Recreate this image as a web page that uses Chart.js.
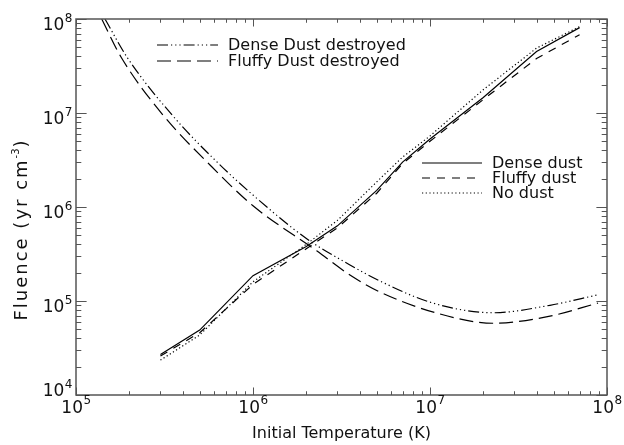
<!DOCTYPE html>
<html>
<head>
<meta charset="utf-8">
<script src="https://cdn.jsdelivr.net/npm/chart.js@4/dist/chart.umd.min.js"></script>
<style>
  html, body { margin: 0; padding: 0; background: #fff; }
  #wrap { width: 624px; height: 445px; }
</style>
</head>
<body>
<div id="wrap"><canvas id="myChart" width="624" height="445"></canvas></div>
<script>
// model grid for the dusty runs (K)
const temps = [3e5, 5e5, 1e6, 2e6, 3e6, 5e6, 7e6, 1e7, 2e7, 4e7, 7e7];
const denseDust  = [2.7e4, 4.9e4, 1.86e5, 3.8e5, 6.3e5, 1.5e6, 3.0e6, 5.3e6, 1.46e7, 4.5e7, 8.1e7];
const fluffyDust = [2.6e4, 4.6e4, 1.5e5, 3.6e5, 6.0e5, 1.4e6, 2.9e6, 5.0e6, 1.39e7, 3.8e7, 6.8e7];
const noDust     = [2.35e4, 4.35e4, 1.6e5, 4.0e5, 7.2e5, 1.85e6, 3.4e6, 5.7e6, 1.77e7, 4.9e7, 8.3e7];

// destruction curves
const denseDestroyedT = [1.458e5, 1.94e5, 3.49e5, 6.34e5, 1.0e6, 2.02e6, 3.53e6, 5.22e6, 1.04e7, 2.27e7, 4.76e7, 8.78e7];
const denseDestroyed  = [1e8, 3.94e7, 9.52e6, 2.94e6, 1.34e6, 4.57e5, 2.42e5, 1.63e5, 9.5e4, 7.5e4, 9.0e4, 1.158e5];
const fluffyDestroyedT = [1.397e5, 1.796e5, 3.10e5, 5.715e5, 1.0e6, 2.3e6, 3.53e6, 5.22e6, 1.139e7, 2.27e7, 4.76e7, 8.9e7];
const fluffyDestroyed  = [1e8, 3.94e7, 9.52e6, 2.80e6, 1.03e6, 3.40e5, 1.89e5, 1.246e5, 7.27e4, 5.8e4, 6.9e4, 9.52e4];

const xDecades = [5, 6, 7, 8];
const yDecades = [4, 5, 6, 7, 8];

const DASH = {
  solid: [],
  fluffy: [8, 7],
  dotted: [1.2, 2.5],
  dashDot: [11, 3, 1.2, 3, 1.2, 3, 1.2, 3],
  longDash: [14, 6]
};

const FONT = '"DejaVu Sans", sans-serif';

function pts(xs, ys) {
  return xs.map((x, i) => ({x: x, y: ys[i]}));
}

function series(label, xs, ys, dash, smooth) {
  return {
    label: label,
    data: pts(xs, ys),
    borderColor: '#000',
    borderWidth: 1.2,
    borderDash: dash,
    pointRadius: 0,
    fill: false,
    cubicInterpolationMode: smooth ? 'monotone' : 'default',
    tension: 0
  };
}

// axes frame, inward ticks, power-of-ten labels, titles and the two keys
const decorations = {
  id: 'decorations',
  afterDraw(chart) {
    const ctx = chart.ctx;
    const a = chart.chartArea;
    const xs = chart.scales.x, ys = chart.scales.y;
    const xMaj = 0.02 * (a.bottom - a.top), yMaj = 0.02 * (a.right - a.left);

    ctx.save();
    ctx.strokeStyle = '#555';
    ctx.lineWidth = 1.5;
    ctx.setLineDash([]);
    ctx.strokeRect(a.left, a.top, a.right - a.left, a.bottom - a.top);

    ctx.lineWidth = 1;
    ctx.beginPath();
    xDecades.forEach((d, i) => {
      for (let k = 1; k <= 9; k++) {
        if (k > 1 && i === xDecades.length - 1) break;
        const px = Math.round(xs.getPixelForValue(k * Math.pow(10, d))) + 0.5;
        const len = k === 1 ? xMaj : xMaj / 2;
        ctx.moveTo(px, a.bottom); ctx.lineTo(px, a.bottom - len);
        ctx.moveTo(px, a.top); ctx.lineTo(px, a.top + len);
      }
    });
    yDecades.forEach((d, i) => {
      for (let k = 1; k <= 9; k++) {
        if (k > 1 && i === yDecades.length - 1) break;
        const py = Math.round(ys.getPixelForValue(k * Math.pow(10, d))) + 0.5;
        const len = k === 1 ? yMaj : yMaj / 2;
        ctx.moveTo(a.left, py); ctx.lineTo(a.left + len, py);
        ctx.moveTo(a.right, py); ctx.lineTo(a.right - len, py);
      }
    });
    ctx.stroke();

    ctx.fillStyle = '#111';
    ctx.textBaseline = 'alphabetic';
    ctx.textAlign = 'left';
    const big = '17px ' + FONT, small = '12px ' + FONT;

    // x tick labels
    xDecades.forEach(d => {
      const px = xs.getPixelForValue(Math.pow(10, d));
      ctx.font = big; const w1 = ctx.measureText('10').width;
      ctx.font = small; const w2 = ctx.measureText(String(d)).width;
      const x0 = px - (w1 + w2) / 2;
      ctx.font = big; ctx.fillText('10', x0, 413);
      ctx.font = small; ctx.fillText(String(d), x0 + w1 + 0.5, 404);
    });

    // y tick labels
    yDecades.forEach(d => {
      const py = ys.getPixelForValue(Math.pow(10, d));
      const base = Math.min(py + 11, 396);
      ctx.font = small; const w2 = ctx.measureText(String(d)).width;
      ctx.font = big; const w1 = ctx.measureText('10').width;
      const x0 = a.left - 4 - w2 - w1;
      ctx.fillText('10', x0, base);
      ctx.font = small; ctx.fillText(String(d), x0 + w1 + 0.5, base - 8);
    });

    // axis titles
    ctx.font = '16px ' + FONT;
    ctx.textAlign = 'center';
    ctx.fillText('Initial Temperature (K)', (a.left + a.right) / 2, 438);

    ctx.save();
    ctx.translate(27, 230);
    ctx.rotate(-Math.PI / 2);
    ctx.textAlign = 'left';
    const partA = 'Fluence (yr cm', sup = '-3', partB = ')';
    ctx.letterSpacing = '2px';
    ctx.font = '18px ' + FONT; const wa = ctx.measureText(partA).width, wb = ctx.measureText(partB).width;
    ctx.letterSpacing = '0px';
    ctx.font = '10px ' + FONT; const ws = ctx.measureText(sup).width;
    let tx = -(wa + ws + wb) / 2;
    ctx.letterSpacing = '2px';
    ctx.font = '18px ' + FONT; ctx.fillText(partA, tx, 0); tx += wa;
    ctx.letterSpacing = '0px';
    ctx.font = '10px ' + FONT; ctx.fillText(sup, tx, -8); tx += ws + 1;
    ctx.font = '18px ' + FONT; ctx.fillText(partB, tx, 0);
    ctx.restore();

    // keys
    const key = (x1, x2, y, dash, text) => {
      ctx.strokeStyle = '#000';
      ctx.lineWidth = 1.2;
      ctx.setLineDash(dash);
      ctx.beginPath(); ctx.moveTo(x1, y); ctx.lineTo(x2, y); ctx.stroke();
      ctx.setLineDash([]);
      ctx.font = '16px ' + FONT;
      ctx.textAlign = 'left';
      ctx.textBaseline = 'middle';
      ctx.fillText(text, x2 + 10, y + 1);
    };
    key(157, 218, 45, DASH.dashDot, 'Dense Dust destroyed');
    key(157, 218, 61, DASH.longDash, 'Fluffy Dust destroyed');
    key(422, 482, 163, DASH.solid, 'Dense dust');
    key(422, 482, 178, DASH.fluffy, 'Fluffy dust');
    key(422, 482, 193, DASH.dotted, 'No dust');

    ctx.restore();
  }
};

new Chart(document.getElementById('myChart'), {
  type: 'line',
  data: {
    datasets: [
      series('Dense dust', temps, denseDust, DASH.solid, false),
      series('Fluffy dust', temps, fluffyDust, DASH.fluffy, false),
      series('No dust', temps, noDust, DASH.dotted, false),
      series('Dense Dust destroyed', denseDestroyedT, denseDestroyed, DASH.dashDot, true),
      series('Fluffy Dust destroyed', fluffyDestroyedT, fluffyDestroyed, DASH.longDash, true)
    ]
  },
  options: {
    responsive: false,
    animation: false,
    devicePixelRatio: 1,
    layout: { padding: { left: 76, top: 19, right: 17, bottom: 50 } },
    scales: {
      x: { type: 'logarithmic', min: 1e5, max: 1e8, display: false },
      y: { type: 'logarithmic', min: 1e4, max: 1e8, display: false }
    },
    plugins: {
      legend: { display: false },
      tooltip: { enabled: false }
    }
  },
  plugins: [decorations]
});
</script>
</body>
</html>
